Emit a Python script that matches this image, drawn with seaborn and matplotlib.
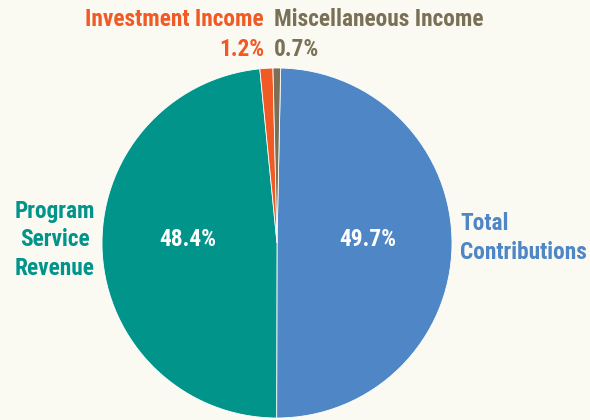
import matplotlib
matplotlib.use("Agg")
import matplotlib.pyplot as plt
import seaborn as sns
from matplotlib import font_manager
from matplotlib.font_manager import FontProperties

sns.set_theme(style="white")
plt.rcParams['font.family'] = ['Roboto', 'DejaVu Sans']

# find a condensed bold font if available
prefs = ["RobotoCondensed-Bold", "LiberationSansNarrow-Bold", "DejaVuSansCondensed-Bold",
         "OpenSans_Condensed-Bold", "NotoSans-CondensedBold"]
files = [f.fname for f in font_manager.fontManager.ttflist]
chosen = None
for p in prefs:
    for fn in files:
        if p.lower() in fn.lower().replace(" ", ""):
            chosen = fn
            break
    if chosen:
        break
if chosen is None:
    for fn in files:
        low = fn.lower()
        if ("condensed" in low or "narrow" in low) and "bold" in low and "italic" not in low and "extra" not in low and "semi" not in low:
            chosen = fn
            break

fs = 16.8
if chosen:
    fp = FontProperties(fname=chosen, size=fs)
else:
    fp = FontProperties(family="Roboto", weight="bold", size=fs - 3)

categories = ["Total Contributions", "Program Service Revenue", "Investment Income", "Miscellaneous Income"]
values = [49.7, 48.4, 1.2, 0.7]
colors = ["#4F86C6", "#00948A", "#F15A24", "#7A7055"]
bg = "#FAFAF3"

fig = plt.figure(figsize=(5.9, 4.2), dpi=100, facecolor=bg)
ax = fig.add_axes([0, 0, 1, 1])
ax.set_facecolor(bg)

cx, cy, r = 277, 243, 175
wedges, _ = ax.pie(values, colors=colors, startangle=88.8, counterclock=False,
                   center=(cx, -cy), radius=r,
                   wedgeprops=dict(edgecolor="white", linewidth=0.6))
ax.set_xlim(0, 590)
ax.set_ylim(-420, 0)
ax.set_aspect("equal")
ax.axis("off")

# inside labels
ax.text(368, -239, f"{values[0]}%", color="white", fontproperties=fp, ha="center", va="center")
ax.text(188, -239, f"{values[1]}%", color="white", fontproperties=fp, ha="center", va="center")

# outside labels
ax.text(460, -238, "Total\nContributions", color=colors[0], fontproperties=fp,
        ha="left", va="center", linespacing=1.3)
ax.text(55, -240, "Program\nService\nRevenue", color=colors[1], fontproperties=fp,
        ha="center", va="center", linespacing=1.3)
ax.text(264, -20, "Investment Income", color=colors[2], fontproperties=fp, ha="right", va="center")
ax.text(264, -49, f"{values[2]}%", color=colors[2], fontproperties=fp, ha="right", va="center")
ax.text(274, -20, "Miscellaneous Income", color=colors[3], fontproperties=fp, ha="left", va="center")
ax.text(274, -49, f"{values[3]}%", color=colors[3], fontproperties=fp, ha="left", va="center")

fig.savefig("out.png", dpi=100, facecolor=bg)
